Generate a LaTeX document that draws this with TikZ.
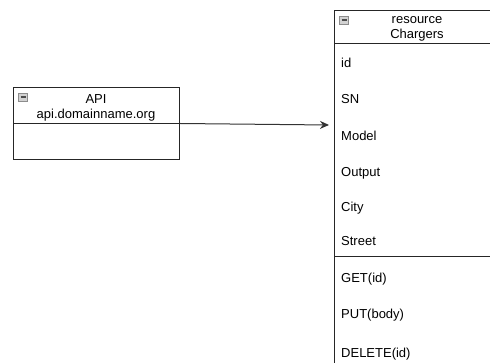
\documentclass[tikz,border=0pt]{standalone}
\usepackage{fontspec}
\setmainfont{Liberation Sans}
\usetikzlibrary{arrows.meta}
\tikzstyle{classbox} = [rectangle, draw=black!85, line width=1pt, inner sep=0pt, anchor=north west]
\tikzstyle{title} = [align=center, inner sep=0pt, font=\fontsize{13}{15}\selectfont]
\tikzstyle{member} = [anchor=base west, inner sep=0pt, font=\fontsize{13}{15}\selectfont]
\tikzstyle{toggle} = [rectangle, draw=gray!90, fill=gray!35, minimum width=9pt, minimum height=8pt, inner sep=0pt,
  path picture={\draw[black!70, line width=1.2pt] ([xshift=2pt]path picture bounding box.west) -- ([xshift=-2pt]path picture bounding box.east);}]
\tikzstyle{arrow} = [line width=1pt, draw=black!80, -{Stealth[length=9pt, width=8pt]}]

\begin{document}
\begin{tikzpicture}[x=1pt, y=-1pt]
    \useasboundingbox (0,0) rectangle (490,363);
    \clip (0,0) rectangle (490,363);

    % API class
    \node (api) [classbox, minimum width=166pt, minimum height=72pt] at (13,87) {};
    \draw [draw=black!85, line width=1pt] (api.west) -- (api.east);
    \node (apitoggle) [toggle] at (23,97) {};
    \node (apititle) [title] at (96,108) {API\\api.domainname.org};

    % resource class, runs past the page edge
    \node (chargers) [classbox, minimum width=166pt, minimum height=420pt] at (334,10) {};
    \coordinate (headbot) at (334,44);
    \coordinate (fieldbot) at (334,257);
    \draw [draw=black!85, line width=1pt] (headbot) -- ++(166,0);
    \draw [draw=black!85, line width=1pt] (fieldbot) -- ++(166,0);
    \node (chargerstoggle) [toggle] at (344,20) {};
    \node (chargerstitle) [title] at (417,29) {resource\\Chargers};

    \node (id) [member] at (341,68) {id};
    \node (sn) [member] at (341,104) {SN};
    \node (model) [member] at (341,141) {Model};
    \node (output) [member] at (341,177) {Output};
    \node (city) [member] at (341,212) {City};
    \node (street) [member] at (341,246) {Street};
    \node (get) [member] at (341,283) {GET(id)};
    \node (put) [member] at (341,319) {PUT(body)};
    \node (delete) [member] at (341,357) {DELETE(id)};

    \coordinate (entry) at (329,125);
    \draw [arrow] (api.east) -- (entry);

\end{tikzpicture}
\end{document}
